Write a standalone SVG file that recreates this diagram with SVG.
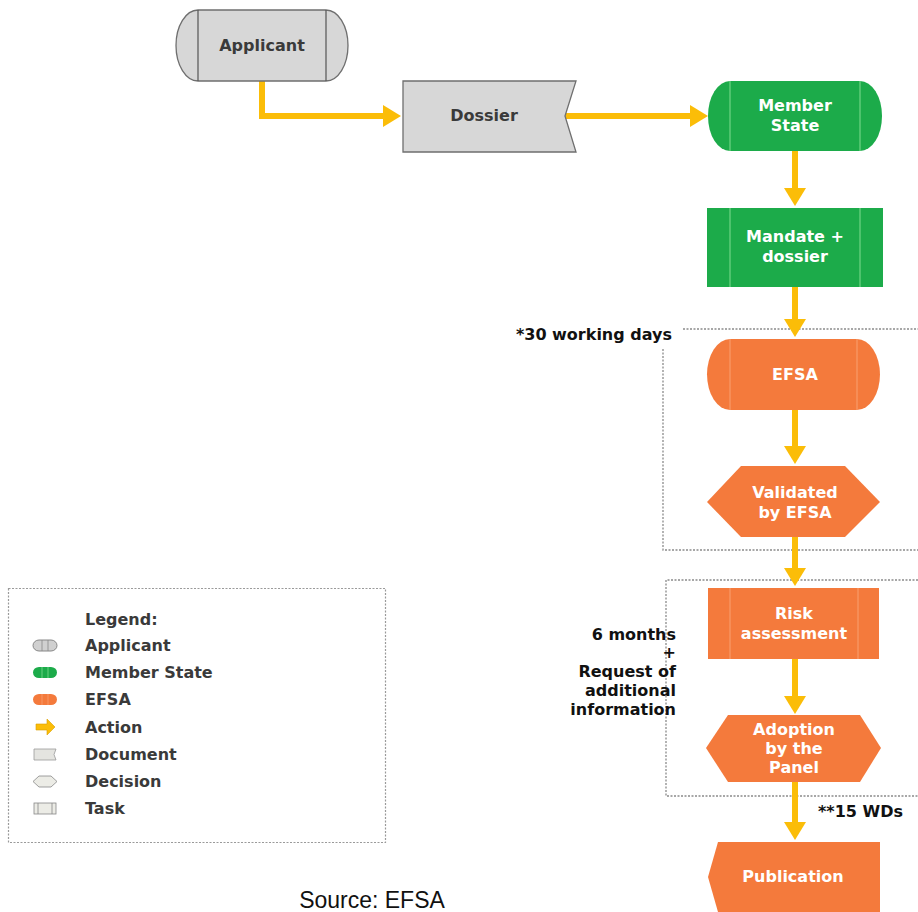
<svg xmlns="http://www.w3.org/2000/svg" width="918" height="912" viewBox="0 0 918 912">
<style>
.t{font-family:"DejaVu Sans","Liberation Sans",Arial,sans-serif;font-weight:bold;font-size:16px;text-anchor:middle}
.e{text-anchor:end}
.w{fill:#ffffff}
.d{fill:#3a3a3a}
.k{fill:#111111}
.gray{fill:#d7d7d7;stroke:#6f6f6f;stroke-width:1.3}
.grn{fill:#1cab4a}
.org{fill:#f47a3c}
.inG{stroke:#7fdc8f;stroke-width:1}
.inO{stroke:#f9a070;stroke-width:1}
.inGr{stroke:#555;stroke-width:1.2}
.con{fill:none;stroke:#fbbd08;stroke-width:6}
.dash{fill:none;stroke:#8a8a8a;stroke-width:1.3;stroke-dasharray:2 1.5}
.lg{font-family:"DejaVu Sans","Liberation Sans",Arial,sans-serif;font-weight:bold;font-size:16px;fill:#3a3a3a}
</style>
<defs>
<marker id="ah" markerUnits="userSpaceOnUse" markerWidth="22" markerHeight="22" refX="2" refY="11" orient="auto">
<path d="M0,0 L18,11 L0,22 Z" fill="#fbbd08"/>
</marker>
</defs>
<rect width="918" height="912" fill="#ffffff"/>

<!-- dashed time boxes -->
<g id="timebox1">
<path class="dash" d="M683,329 H918 M663,349 V550 H918"/>
<text class="t k e" x="672" y="340">*30 working days</text>
</g>
<g id="timebox2">
<path class="dash" d="M918,580 H666 V796 H918"/>
<text class="t k e" x="676" y="640">6 months</text>
<text class="t k e" x="676" y="658">+</text>
<text class="t k e" x="676" y="677">Request of</text>
<text class="t k e" x="676" y="696">additional</text>
<text class="t k e" x="676" y="715">information</text>
<text class="t k e" x="903" y="817">**15 WDs</text>
</g>

<!-- connectors -->
<g id="connectors">
<path class="con" d="M262,81 V116 H385" marker-end="url(#ah)"/>
<path class="con" d="M565,116 H692" marker-end="url(#ah)"/>
<path class="con" d="M795,151 V190" marker-end="url(#ah)"/>
<path class="con" d="M795,287 V321" marker-end="url(#ah)"/>
<path class="con" d="M795,410 V448" marker-end="url(#ah)"/>
<path class="con" d="M795,537 V570" marker-end="url(#ah)"/>
<path class="con" d="M795,659 V698" marker-end="url(#ah)"/>
<path class="con" d="M795,782 V824" marker-end="url(#ah)"/>
</g>

<g id="applicant">
<path class="gray" d="M198,10 H326 A22,35.5 0 0 1 326,81 H198 A22,35.5 0 0 1 198,10 Z"/>
<path class="inGr" d="M198,10 V81 M326,10 V81"/>
<text class="t d" x="262" y="51">Applicant</text>
</g>

<g id="dossier">
<path class="gray" d="M403,81 H576 L565,116 L576,152 H403 Z"/>
<text class="t d" x="484" y="121">Dossier</text>
</g>

<g id="member-state">
<path class="grn" d="M730,81 H860 A22,35 0 0 1 860,151 H730 A22,35 0 0 1 730,81 Z"/>
<path class="inG" d="M730,81 V151 M860,81 V151"/>
<text class="t w" x="795" y="111">Member</text>
<text class="t w" x="795" y="131">State</text>
</g>

<g id="mandate">
<rect class="grn" x="707" y="208" width="176" height="79"/>
<path class="inG" d="M730,208 V287 M860,208 V287"/>
<text class="t w" x="795" y="242">Mandate +</text>
<text class="t w" x="795" y="262">dossier</text>
</g>

<g id="efsa">
<path class="org" d="M730,339 H857 A23,35.5 0 0 1 857,410 H730 A23,35.5 0 0 1 730,339 Z"/>
<path class="inO" d="M730,339 V410 M857,339 V410"/>
<text class="t w" x="795" y="380">EFSA</text>
</g>

<g id="validated">
<path class="org" d="M741,466 H845 L880,502 L845,537 H741 L707,502 Z"/>
<text class="t w" x="795" y="498">Validated</text>
<text class="t w" x="795" y="518">by EFSA</text>
</g>

<g id="risk">
<rect class="org" x="708" y="588" width="171" height="71"/>
<path class="inO" d="M730,588 V659 M858,588 V659"/>
<text class="t w" x="794" y="619">Risk</text>
<text class="t w" x="794" y="639">assessment</text>
</g>

<g id="adoption">
<path class="org" d="M728,715 H860 L881,748 L860,782 H728 L706,748 Z"/>
<text class="t w" x="794" y="735">Adoption</text>
<text class="t w" x="794" y="754">by the</text>
<text class="t w" x="794" y="773">Panel</text>
</g>

<g id="publication">
<path class="org" d="M718,842 H880 V912 H718 L708,877 Z"/>
<text class="t w" x="793" y="882">Publication</text>
</g>

<g id="legend">
<rect x="8.5" y="588.5" width="377" height="254" fill="none" stroke="#9a9a9a" stroke-width="1.2" stroke-dasharray="2 1.5"/>
<text class="lg" x="85" y="625">Legend:</text>
<path d="M39,640 H51 A6,5.5 0 0 1 51,651 H39 A6,5.5 0 0 1 39,640 Z" fill="#d0d0d0" stroke="#888" stroke-width="1"/>
<path d="M42,640 V651 M48,640 V651" stroke="#888" stroke-width="0.8"/>
<text class="lg" x="85" y="651">Applicant</text>
<path d="M39,667 H51 A6,5.5 0 0 1 51,678 H39 A6,5.5 0 0 1 39,667 Z" fill="#1cab4a"/>
<path d="M42,667 V678 M48,667 V678" stroke="#7fdc8f" stroke-width="0.8"/>
<text class="lg" x="85" y="678">Member State</text>
<path d="M39,694 H51 A6,5.5 0 0 1 51,705 H39 A6,5.5 0 0 1 39,694 Z" fill="#f47a3c"/>
<path d="M42,694 V705 M48,694 V705" stroke="#f9a070" stroke-width="0.8"/>
<text class="lg" x="85" y="705">EFSA</text>
<path d="M36,724 H47 V719 L55,727 L47,735 V730 H36 Z" fill="#fbbd08" stroke="#d9a000" stroke-width="0.6"/>
<text class="lg" x="85" y="733">Action</text>
<path d="M34,749 H56 L54,754.5 L56,760 H34 Z" fill="#e4e4e0" stroke="#999" stroke-width="0.8"/>
<text class="lg" x="85" y="760">Document</text>
<path d="M39,776 H51 L57,781.5 L51,787 H39 L33,781.5 Z" fill="#ecece6" stroke="#888" stroke-width="0.8"/>
<text class="lg" x="85" y="787">Decision</text>
<rect x="34" y="803" width="22" height="11" fill="#ecece6" stroke="#888" stroke-width="0.8"/>
<path d="M38,803 V814 M52,803 V814" stroke="#888" stroke-width="0.8"/>
<text class="lg" x="85" y="814">Task</text>
</g>

<text x="372" y="908" font-family="'Liberation Sans',Arial,sans-serif" font-size="23" fill="#111" text-anchor="middle">Source: EFSA</text>
</svg>
